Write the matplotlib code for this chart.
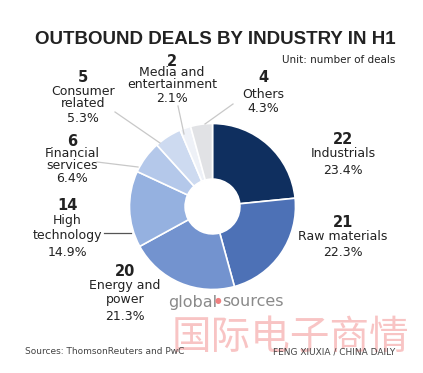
import matplotlib.pyplot as plt

# data
industries = ['Industrials', 'Raw materials', 'Energy and\npower', 'High\ntechnology',
              'Financial\nservices', 'Consumer\nrelated', 'Media and\nentertainment', 'Others']
deals = [22, 21, 20, 14, 6, 5, 2, 4]
shares = ['23.4%', '22.3%', '21.3%', '14.9%', '6.4%', '5.3%', '2.1%', '4.3%']
colors = ['#0f2f5f', '#4d71b6', '#7393cf', '#95b1e0', '#b4c8ea', '#cddaf0', '#eef1f7', '#e1e2e5']

W, H = 423, 373
fig = plt.figure(figsize=(W / 100, H / 100), dpi=100)
fig.patch.set_facecolor('white')


def px(x, y):
    return x / W, 1 - y / H


# donut placement (pixels)
cx, cy, r = 212.5, 206.5, 83
ax = fig.add_axes([(cx - r) / W, (H - cy - r) / H, 2 * r / W, 2 * r / H])
ax.pie(deals, colors=colors, startangle=90, counterclock=False,
       wedgeprops=dict(width=0.67, edgecolor='white', linewidth=1.2))
ax.set_xlim(-1, 1)
ax.set_ylim(-1, 1)
ax.axis('off')

# title
fig.text(*px(215, 40), 'OUTBOUND DEALS BY INDUSTRY IN H1', ha='center', va='center',
         fontsize=13.5, fontweight='bold', color='#222222', family='Liberation Sans')
fig.text(*px(395, 60), 'Unit: number of deals', ha='right', va='center',
         fontsize=7.5, color='#222222')

# label layout: x centre, y of number, y of each name line, y of pct
label_pos = {
    'Industrials': (343, 140, [153], 170),
    'Raw materials': (343, 223, [237], 253),
    'Energy and\npower': (125, 271, [286, 299], 316),
    'High\ntechnology': (67, 206, [221, 235], 252),
    'Financial\nservices': (72, 141, [153, 165], 179),
    'Consumer\nrelated': (83, 78, [91.5, 103.5], 118),
    'Media and\nentertainment': (172, 61, [73, 85], 98),
    'Others': (263, 78, [94], 109),
}
for name, n, pct in zip(industries, deals, shares):
    x, yn, ys, yp = label_pos[name]
    fig.text(*px(x, yn), str(n), ha='center', va='center', fontsize=10.5,
             fontweight='bold', color='#222222')
    for line, yl in zip(name.split('\n'), ys):
        fig.text(*px(x, yl), line, ha='center', va='center', fontsize=9,
                 color='#222222')
    fig.text(*px(x, yp), pct, ha='center', va='center', fontsize=9, color='#222222')

# leader lines
leaders = [
    ((115, 112), (160, 143), '#c8c8c8'),
    ((178, 106), (184, 134), '#c8c8c8'),
    ((233, 104), (205, 124), '#c8c8c8'),
    ((97, 162), (138, 167), '#c8c8c8'),
    ((104, 233), (131, 233), '#555555'),
]
for (x0, y0), (x1, y1), c in leaders:
    fig.add_artist(plt.Line2D([x0 / W, x1 / W], [1 - y0 / H, 1 - y1 / H],
                              color=c, linewidth=0.9))

# watermark
fig.text(*px(168, 302), 'global', ha='left', va='center', fontsize=11.5, color='#8a8a8a')
fig.text(*px(218, 300), '\u25cf', ha='center', va='center', fontsize=5.5, color='#f08080')
fig.text(*px(284, 302), 'sources', ha='right', va='center', fontsize=11.5, color='#8a8a8a')
fig.text(*px(290, 338), '国际电子商情', ha='center', va='center', fontsize=28.5,
         color='#f28a8a', alpha=0.5, family='Noto Sans CJK SC')

# footer
fig.text(*px(25, 352), 'Sources: ThomsonReuters and PwC', ha='left', va='center',
         fontsize=6.5, color='#444444')
fig.text(*px(395, 352), 'FENG XIUXIA / CHINA DAILY', ha='right', va='center',
         fontsize=6.5, color='#444444')

fig.savefig('out.png', dpi=100)
